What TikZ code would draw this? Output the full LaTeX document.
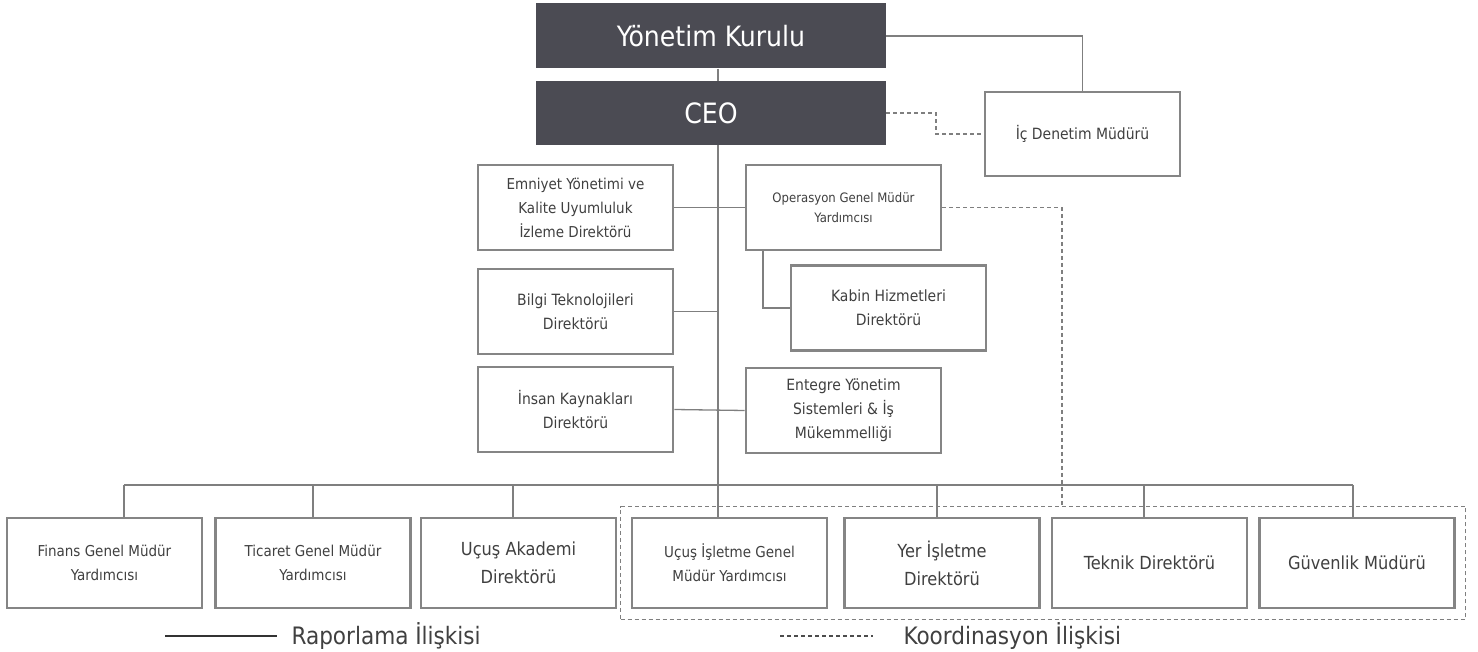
\documentclass[tikz,border=0pt]{standalone}
\usepackage{fontspec}
\setmainfont{DejaVu Sans Condensed}
\usetikzlibrary{fit}
\definecolor{koyu}{HTML}{4B4B53}
\definecolor{cerceve}{HTML}{858585}
\definecolor{cizgi}{HTML}{7F7F7F}
\definecolor{yazi}{HTML}{404040}

\begin{document}
\begin{tikzpicture}[x=1pt,y=-1pt,
    ust/.style={rectangle,fill=koyu,text=white,minimum width=350,minimum height=65,font=\fontsize{28}{32}\selectfont},
    kutu/.style={rectangle,draw=cerceve,line width=2.6pt,fill=white,text=yazi,minimum width=195,minimum height=85,align=center,inner sep=2pt,font=\fontsize{15.5}{24}\selectfont},
    kucuk/.style={font=\fontsize{13}{20}\selectfont},
    orta/.style={font=\fontsize{15}{24}\selectfont},
    buyuk/.style={font=\fontsize{18}{28}\selectfont},
    baglanti/.style={draw=cizgi,line width=1.3pt},
    koord/.style={draw=cizgi,line width=1.2pt,dash pattern=on 4pt off 3pt}]
    \useasboundingbox (0,0) rectangle (1478,652);

    \node[ust] (yk) at (711,36) {Yönetim Kurulu};
    \node[ust,minimum height=64] (ceo) at (711,113) {CEO};
    \begin{scope}[every node/.style={kutu}]
    \node[minimum height=84] (ic) at (1082.5,134) {İç Denetim Müdürü};
    \node[orta] (emn) at (575.5,207.5) {Emniyet Yönetimi ve\\Kalite Uyumluluk\\İzleme Direktörü};
    \node (bilgi) at (575.5,311.5) {Bilgi Teknolojileri\\Direktörü};
    \node (insan) at (575.5,409.5) {İnsan Kaynakları\\Direktörü};
    \node[kucuk] (op) at (843.5,207.5) {Operasyon Genel Müdür\\Yardımcısı};
    \node (kabin) at (888.5,308) {Kabin Hizmetleri\\Direktörü};
    \node (ent) at (843.5,410.5) {Entegre Yönetim\\Sistemleri \& İş\\Mükemmelliği};
    \end{scope}
    \begin{scope}[every node/.style={kutu,minimum height=90}]
    \node[orta] (fin) at (104.5,563) {Finans Genel Müdür\\Yardımcısı};
    \node[orta] (tic) at (313,563) {Ticaret Genel Müdür\\Yardımcısı};
    \node[buyuk] (aka) at (518.5,563) {Uçuş Akademi\\Direktörü};
    \node[orta] (ucus) at (729.5,563) {Uçuş İşletme Genel\\Müdür Yardımcısı};
    \node[buyuk] (yer) at (942,563) {Yer İşletme\\Direktörü};
    \node[buyuk] (tek) at (1149.5,563) {Teknik Direktörü};
    \node[buyuk] (guv) at (1357,563) {Güvenlik Müdürü};
    \end{scope}
    \node[koord,fit=(ucus)(guv),inner sep=10pt] (grup) {};

    \coordinate (govde) at (718,0);
    \coordinate (ceokirik) at (936,0);
    \coordinate (opkirik) at (1062,0);
    \coordinate (kabinkol) at (763,0);

    \draw[baglanti] (yk.south -| govde) -- (ceo.north -| govde);
    \draw[baglanti] (yk.east) -| (ic.north);
    \draw[koord] (ceo.east) -| (ceokirik |- ic.west) -- (ic.west);
    \draw[baglanti] (ceo.south -| govde) -- (ucus.north -| govde);
    \draw[baglanti] (emn.east) -- (op.west);
    \draw[baglanti] (bilgi.east) -- (bilgi.east -| govde);
    \draw[baglanti] (insan.east) -- (ent.west);
    \draw[baglanti] (op.south -| kabinkol) |- (kabin.west);
    \draw[koord] (op.east) -| (grup.north -| opkirik);
    \draw[baglanti] (124,485) -- (1353,485);
    \foreach \n/\x in {fin/124,tic/313,aka/513,yer/937,tek/1144,guv/1353}
        \draw[baglanti] (\x,485) -- (\n.north -| \x,0);

    \coordinate (r1) at (165,636);
    \coordinate (r2) at (277,636);
    \node[anchor=west,text=yazi,font=\fontsize{24}{28}\selectfont] (rapor) at (288,636) {Raporlama İlişkisi};
    \draw[baglanti,draw=black!80] (r1) -- (r2);
    \coordinate (k1) at (780,636);
    \coordinate (k2) at (873,636);
    \node[anchor=west,text=yazi,font=\fontsize{24}{28}\selectfont] (koor) at (900,636) {Koordinasyon İlişkisi};
    \draw[koord,draw=black!70] (k1) -- (k2);
\end{tikzpicture}
\end{document}
